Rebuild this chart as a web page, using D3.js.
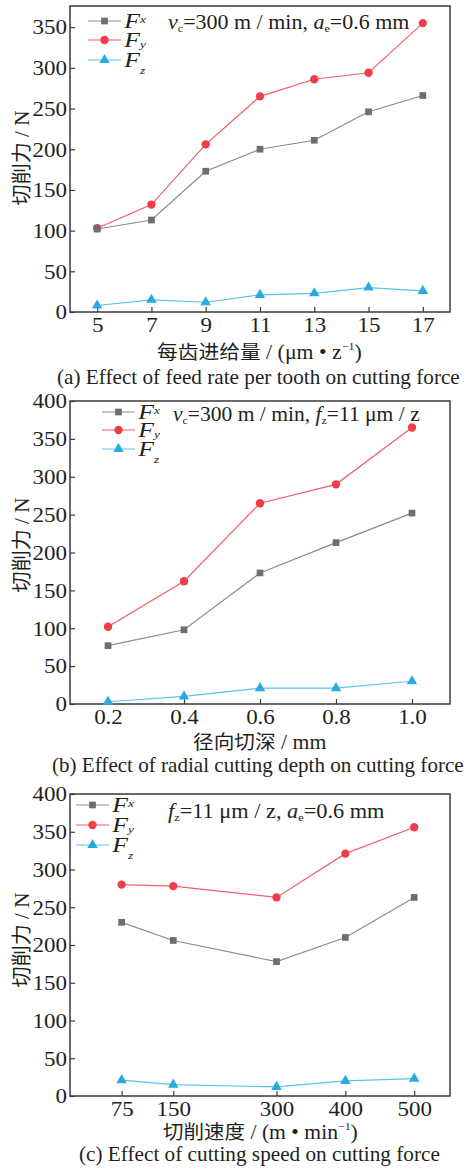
<!DOCTYPE html>
<html>
<head>
<meta charset="utf-8">
<script src="https://cdn.jsdelivr.net/npm/d3@7"></script>
<style>
  body { margin: 0; background: #fff; }
  svg text { font-family: "Liberation Serif", "Times New Roman", serif; fill: #231f20; }
  .cjk { font-family: "Noto Sans CJK SC", sans-serif; }
</style>
</head>
<body>
<div id="chart"></div>
<script>
// panel (a): feed rate per tooth
const feedRate = [5, 7, 9, 11, 13, 15, 17];
const feedFx = [102, 113, 173, 200, 211, 246, 266];
const feedFy = [103, 132, 206, 265, 286, 294, 355];
const feedFz = [8, 15, 12, 21, 23, 30, 26];

// panel (b): radial cutting depth
const depth = [0.2, 0.4, 0.6, 0.8, 1.0];
const depthFx = [77, 98, 173, 213, 252];
const depthFy = [102, 162, 265, 290, 365];
const depthFz = [3, 10, 21, 21, 30];

// panel (c): cutting speed
const speed = [75, 150, 300, 400, 500];
const speedFx = [230, 206, 178, 210, 263];
const speedFy = [280, 278, 263, 321, 356];
const speedFz = [21, 15, 12, 20, 23];

const width = 466, height = 1170;
const colors = { fx: '#6d6e71', fy: '#ef3e4a', fz: '#29abe2' };
const lineColors = { fx: '#8a8b8e', fy: '#f0606a', fz: '#5cc3ea' };

const svg = d3.select('#chart').append('svg')
  .attr('width', width).attr('height', height);

// stretch a text horizontally so it spans x1..x2
function fitX(text, x1, x2) {
  const b = text.node().getBBox();
  const s = (x2 - x1) / b.width;
  text.attr('transform', `translate(${x1},0) scale(${s},1) translate(${-b.x},0)`);
}

const panels = [
  {
    x: feedRate, fx: feedFx, fy: feedFy, fz: feedFz,
    xDomain: [4, 18], yDomain: [0, 376], yTicks: [0, 50, 100, 150, 200, 250, 300, 350],
    top: 6, bottom: 312, xFmt: d3.format('d'),
    legendX: 88, legendY: [21, 40, 60],
    note: { x: 168, x2: 410, y: 29, parts: [['v', 'i'], ['c', 'sub'], ['=300 m / min,  ', ''], ['a', 'i'], ['e', 'sub'], ['=0.6 mm', '']] },
    xLabel: ['每齿进给量 / (μm • z', '−1', ')'], xLabelX: [157, 362], xLabelY: 359,
    caption: '(a) Effect of feed rate per tooth on cutting force', captionX: [57, 460], captionY: 384, yLabelC: 158
  },
  {
    x: depth, fx: depthFx, fy: depthFy, fz: depthFz,
    xDomain: [0.1, 1.1], yDomain: [0, 400], yTicks: [0, 50, 100, 150, 200, 250, 300, 350, 400],
    top: 401, bottom: 704, xFmt: d3.format('.1f'),
    legendX: 102, legendY: [412, 430, 449],
    note: { x: 173, x2: 420, y: 421, parts: [['v', 'i'], ['c', 'sub'], ['=300 m / min, ', ''], ['f', 'i'], ['z', 'sub'], ['=11 μm / z', '']] },
    xLabel: ['径向切深 / mm'], xLabelX: [193, 327], xLabelY: 749,
    caption: '(b) Effect of radial cutting depth on cutting force', captionX: [52, 464], captionY: 772, yLabelC: 545
  },
  {
    x: speed, fx: speedFx, fy: speedFy, fz: speedFz,
    xDomain: [0, 552], yDomain: [0, 400], yTicks: [0, 50, 100, 150, 200, 250, 300, 350, 400],
    top: 794, bottom: 1096, xFmt: d3.format('d'),
    legendX: 76, legendY: [805, 825, 845],
    note: { x: 168, x2: 385, y: 818, parts: [['f', 'i'], ['z', 'sub'], ['=11 μm / z,  ', ''], ['a', 'i'], ['e', 'sub'], ['=0.6 mm', '']] },
    xLabel: ['切削速度 / (m • min', '−1', ')'], xLabelX: [163, 358], xLabelY: 1139,
    caption: '(c) Effect of cutting speed on cutting force', captionX: [79, 440], captionY: 1161, yLabelC: 940
  }
];

const left = 70, right = 450;

panels.forEach(p => {
  const g = svg.append('g');
  const x = d3.scaleLinear().domain(p.xDomain).range([left, right]);
  const y = d3.scaleLinear().domain(p.yDomain).range([p.bottom, p.top]);

  // frame
  g.append('rect')
    .attr('x', left).attr('y', p.top)
    .attr('width', right - left).attr('height', p.bottom - p.top)
    .attr('fill', 'none').attr('stroke', '#3a3a3c').attr('stroke-width', 1.5);

  // axes, ticks inward
  const xAxis = g.append('g').attr('transform', `translate(0,${p.bottom})`)
    .call(d3.axisBottom(x).tickValues(p.x).tickFormat(p.xFmt).tickSize(-5).tickPadding(6));
  const yAxis = g.append('g').attr('transform', `translate(${left},0)`)
    .call(d3.axisLeft(y).tickValues(p.yTicks).tickSize(-5).tickPadding(3));
  [xAxis, yAxis].forEach(a => {
    a.attr('font-family', null).attr('font-size', null);
    a.select('.domain').remove();
    a.selectAll('line').attr('stroke', '#3a3a3c').attr('stroke-width', 1.2);
    a.selectAll('text').attr('font-size', 20).attr('fill', '#231f20');
  });
  yAxis.selectAll('text').attr('dy', '0.34em')
    .attr('transform', 'translate(-3,0) scale(1.15,1) translate(3,0)');
  xAxis.selectAll('text').attr('transform', 'scale(1.15,1)');

  // series
  const series = [
    { key: 'fx', vals: p.fx, shape: d3.symbolSquare, size: 45 },
    { key: 'fy', vals: p.fy, shape: d3.symbolCircle, size: 55 },
    { key: 'fz', vals: p.fz, shape: d3.symbolTriangle, size: 48 }
  ];
  const line = d3.line().x(d => x(d[0])).y(d => y(d[1]));
  series.slice().reverse().forEach(s => {
    const pts = p.x.map((v, i) => [v, s.vals[i]]);
    g.append('path').datum(pts).attr('d', line)
      .attr('fill', 'none').attr('stroke', lineColors[s.key]).attr('stroke-width', 1.2);
    g.selectAll(null).data(pts).enter().append('path')
      .attr('d', d3.symbol().type(s.shape).size(s.size))
      .attr('transform', d => `translate(${x(d[0])},${y(d[1])})`)
      .attr('fill', colors[s.key]);
  });

  // legend
  series.forEach((s, i) => {
    const ly = p.legendY[i];
    g.append('line').attr('x1', p.legendX).attr('x2', p.legendX + 33)
      .attr('y1', ly).attr('y2', ly)
      .attr('stroke', lineColors[s.key]).attr('stroke-width', 1.2);
    g.append('path').attr('d', d3.symbol().type(s.shape).size(s.size))
      .attr('transform', `translate(${p.legendX + 16.5},${ly})`).attr('fill', colors[s.key]);
    const t = g.append('text').attr('x', p.legendX + 35).attr('y', ly + 7).attr('font-size', 21);
    t.append('tspan').attr('font-style', 'italic').text('F');
    t.append('tspan').attr('font-style', 'italic').attr('font-size', 11).attr('dy', -5 + i * 6)
      .text(['x', 'y', 'z'][i]);
    fitX(t, p.legendX + 35, p.legendX + 58);
  });

  // condition note
  const note = g.append('text').attr('x', p.note.x).attr('y', p.note.y).attr('font-size', 20);
  p.note.parts.forEach(([txt, st], k) => {
    const ts = note.append('tspan').text(txt);
    if (st === 'i') ts.attr('font-style', 'italic');
    if (st === 'sub') ts.attr('font-size', 11).attr('dy', 3);
    if (st === '') ts.attr('dy', -3);
  });
  fitX(note, p.note.x, p.note.x2);

  // y label
  const yl = g.append('text').attr('text-anchor', 'middle').attr('font-size', 20);
  yl.append('tspan').attr('class', 'cjk').text('切削力');
  yl.append('tspan').text(' / N');
  const yb = yl.node().getBBox();
  yl.attr('transform', `translate(29,${p.yLabelC}) rotate(-90) scale(${95 / yb.width},1) translate(${-(yb.x + yb.width / 2)},0)`);

  // x label
  const xl = g.append('text').attr('x', 0).attr('y', p.xLabelY).attr('font-size', 20);
  const lab = p.xLabel[0];
  const cut = lab.indexOf(' /');
  xl.append('tspan').attr('class', 'cjk').attr('font-size', 19).text(lab.slice(0, cut));
  xl.append('tspan').text(lab.slice(cut));
  if (p.xLabel.length > 1) {
    xl.append('tspan').attr('font-size', 11).attr('dy', -9).text(p.xLabel[1]);
    xl.append('tspan').attr('dy', 9).text(p.xLabel[2]);
  }
  fitX(xl, p.xLabelX[0], p.xLabelX[1]);

  // caption
  const cap = g.append('text').attr('x', 0).attr('y', p.captionY)
    .attr('font-size', 21).text(p.caption);
  fitX(cap, p.captionX[0], p.captionX[1]);
});
</script>
</body>
</html>
